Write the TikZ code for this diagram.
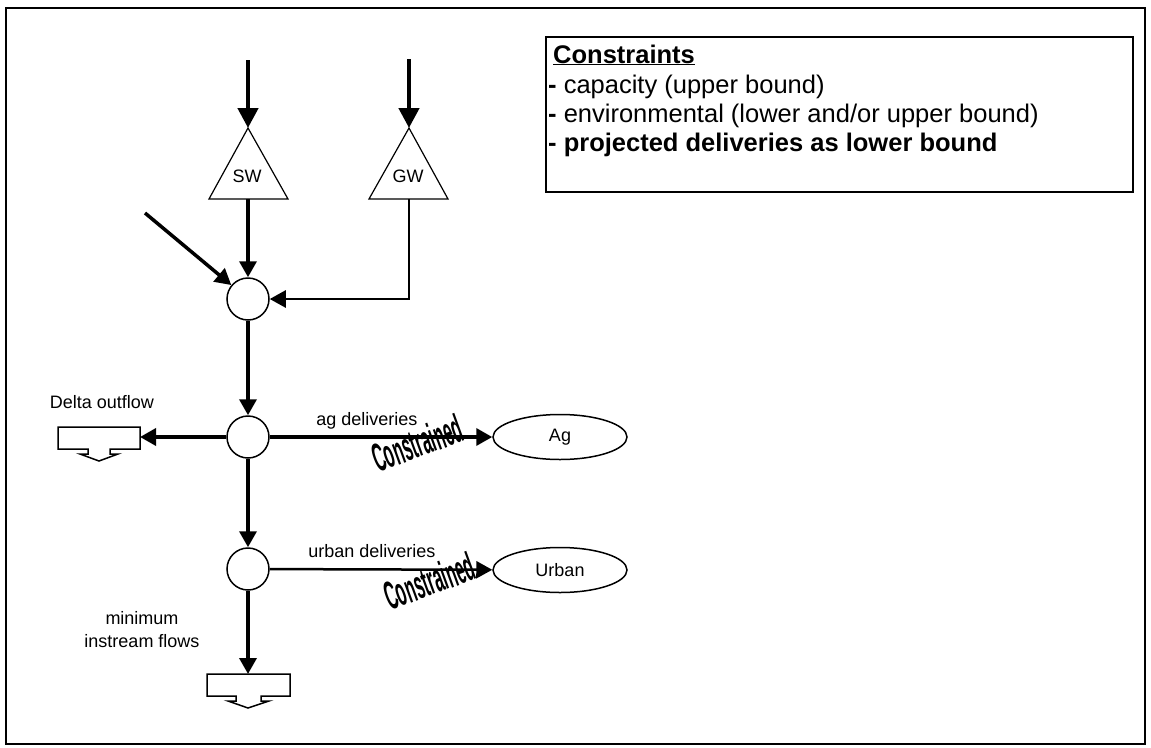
\documentclass[tikz,border=0pt]{standalone}
\usepackage{fontspec}
\setmainfont{Liberation Sans}
\newfontfamily\consfont[FakeStretch=0.4]{Liberation Sans}
\usetikzlibrary{arrows.meta,shapes.geometric}
\begin{document}
\begin{tikzpicture}[x=1pt,y=-1pt,
  every node/.style={font=\fontsize{18}{21}\selectfont, inner sep=0pt},
  junction/.style={circle, draw, line width=1.5pt, minimum size=42pt},
  demand/.style={ellipse, draw, line width=1.5pt, minimum width=134pt, minimum height=45pt},
  topflow/.style={line width=4.5pt, -{Triangle[length=20pt,width=20pt]}},
  flow/.style={line width=3.5pt, -{Triangle[length=16pt,width=17pt]}},
  flowthin/.style={line width=2.5pt, -{Triangle[length=16pt,width=17pt]}},
  sink/.style={draw, line width=1.5pt, line join=miter},
  cons/.style={rotate=20, font=\consfont\fontsize{40}{40}\selectfont\bfseries},
  bigtext/.style={anchor=base west, font=\fontsize{25.5}{30}\selectfont}]
\useasboundingbox (0,0) rectangle (1151,747);
% outer frame
\draw[line width=2pt] (6,8) rectangle (1145,744);
% constraints box
\draw[line width=1.5pt] (546,37) rectangle (1133,192);
\node[bigtext, font=\fontsize{25.5}{30}\selectfont\bfseries] (ctitle) at (553,63) {\underline{Constraints}};
\node[bigtext] (cl1) at (548,93) {\textbf{-} capacity (upper bound)};
\node[bigtext] (cl2) at (548,122) {\textbf{-} environmental (lower and/or upper bound)};
\node[bigtext, font=\fontsize{25.5}{30}\selectfont\bfseries] (cl3) at (548,151) {- projected deliveries as lower bound};
% sources
\draw[line width=1.2pt] (209,199) -- (248,128) -- (288,199) -- cycle;
\draw[line width=1.2pt] (369,199) -- (409,128) -- (448,199) -- cycle;
\node (sw) at (247,176) {SW};
\node (gw) at (408,176) {GW};
\coordinate (swapex) at (248,128);
\coordinate (gwapex) at (409,128);
\coordinate (swbase) at (248,199);
\coordinate (gwbase) at (409,199);
\coordinate (swin) at (248,60);
\coordinate (gwin) at (409,59);
\coordinate (sidein) at (145,213);
% junctions
\node[junction] (j1) at (248,299) {};
\node[junction] (j2) at (248,437) {};
\node[junction] (j3) at (248,569) {};
% demands
\node[demand] (ag) at (560,437) {Ag};
\node[demand] (urban) at (560,570) {Urban};
% sinks
\draw[sink] (58,427) -- (140,427) -- (140,449) -- (110,449) -- (110,454) -- (118,454) -- (99,461) -- (80,454) -- (88,454) -- (88,449) -- (58,449) -- cycle;
\coordinate (deltaE) at (140,437);
\draw[sink] (207,674) -- (290,674) -- (290,696) -- (261,696) -- (261,701) -- (269,701) -- (248,708) -- (228,701) -- (236,701) -- (236,696) -- (207,696) -- cycle;
\coordinate (minN) at (248,674);
% connectors
\draw[topflow] (swin) -- (swapex);
\draw[topflow] (gwin) -- (gwapex);
\draw[flow] (swbase) -- (j1);
\draw[flow] (sidein) -- (j1);
\draw[flowthin] (gwbase) |- (j1);
\draw[flow] (j1) -- (j2);
\draw[flow] (j2) -- (deltaE);
\draw[flow] (j2) -- (ag);
\draw[flow] (j2) -- (j3);
\draw[flowthin] (j3) -- (urban);
\draw[flow] (j3) -- (minN);
% labels
\node[anchor=base] (ldelta) at (102,408) {Delta outflow};
\node[anchor=base] (lag) at (367,425) {ag deliveries};
\node[anchor=base] (lurban) at (372,557) {urban deliveries};
\node[align=center] (lmin) at (142,630) {minimum\\[2pt]instream flows};
\node[cons] (cag) at (417,443) {Constrained};
\node[cons] (curb) at (429,581) {Constrained};
\end{tikzpicture}
\end{document}
